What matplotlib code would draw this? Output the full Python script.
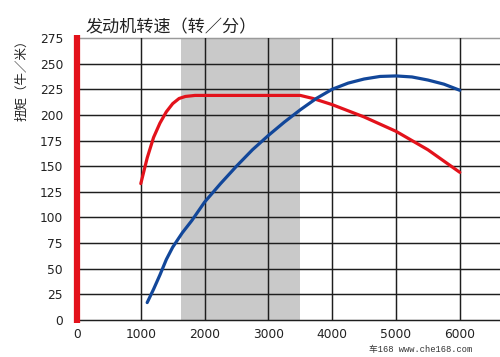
import matplotlib
matplotlib.use("Agg")
import matplotlib.pyplot as plt

plt.rcParams['font.family'] = ['Noto Sans CJK SC', 'DejaVu Sans']

# 扭矩曲线 (红) 与 功率曲线 (蓝)，数值读自原图
red_rpm = [1000, 1100, 1200, 1300, 1400, 1500, 1600, 1700, 1850, 2500, 3000, 3500,
           3700, 4000, 4500, 5000, 5500, 6000]
red_val = [133, 158, 178, 192, 203, 211, 216, 218, 219, 219, 219, 219,
           216, 210, 198, 184, 166, 144]

blue_rpm = [1100, 1200, 1300, 1400, 1500, 1650, 1800, 2000, 2250, 2500, 2750, 3000,
            3250, 3500, 3750, 4000, 4250, 4500, 4750, 5000, 5250, 5500, 5750, 6000]
blue_val = [17, 30, 44, 59, 71, 85, 97, 115, 133, 150, 166, 180,
            193, 205, 216, 225, 231, 235, 237.5, 238, 237, 234, 230, 224]

shade_range = (1630, 3500)
x_ticks = [0, 1000, 2000, 3000, 4000, 5000, 6000]
y_ticks = list(range(0, 276, 25))

title_text = "发动机转速（转／分）"
ylabel_text = "扭矩（牛／米）"
watermark = "车168 www.che168.com"

fig = plt.figure(figsize=(5, 3.57), dpi=100)
ax = fig.add_axes([0.154, 0.1036, 0.846, 0.79])
ax.set_xlim(0, 6630)
ax.set_ylim(0, 275)

ax.axvspan(*shade_range, color='#c9c9c9', lw=0, zorder=0)

for y in y_ticks:
    c = '#9a9a9a' if y == y_ticks[-1] else '#1e1e1e'
    ax.axhline(y, color=c, lw=1.05, zorder=1, clip_on=False)
for x in x_ticks[1:]:
    ax.axvline(x, color='#1e1e1e', lw=1.05, zorder=1)

ax.plot(red_rpm, red_val, color='#e3121b', lw=2.3, zorder=3, solid_capstyle='round')
ax.plot(blue_rpm, blue_val, color='#12479a', lw=2.3, zorder=3, solid_capstyle='round')

# 左侧红色粗竖条
ax.plot([0, 0], [-3, 278], color='#e3121b', lw=4.5, clip_on=False, zorder=4,
        solid_capstyle='butt')

for s in ax.spines.values():
    s.set_visible(False)

ax.set_xticks(x_ticks)
ax.set_yticks(y_ticks)
ax.tick_params(length=0, labelsize=8.8, colors='#222222')
ax.tick_params(axis='y', pad=10)
ax.tick_params(axis='x', pad=6)
for lab in ax.get_xticklabels() + ax.get_yticklabels():
    lab.set_family('DejaVu Sans')

fig.text(0.343, 0.922, title_text, fontsize=12.3, ha='center', va='center', color='#222222')
fig.text(0.043, 0.785, ylabel_text, fontsize=9, ha='center', va='center',
         rotation=90, color='#222222')
fig.text(0.842, 0.022, watermark, fontsize=6.3, ha='center', va='center',
         color='#333333', family=['Liberation Mono', 'Noto Sans CJK SC'])

fig.savefig("out.png", dpi=100)
